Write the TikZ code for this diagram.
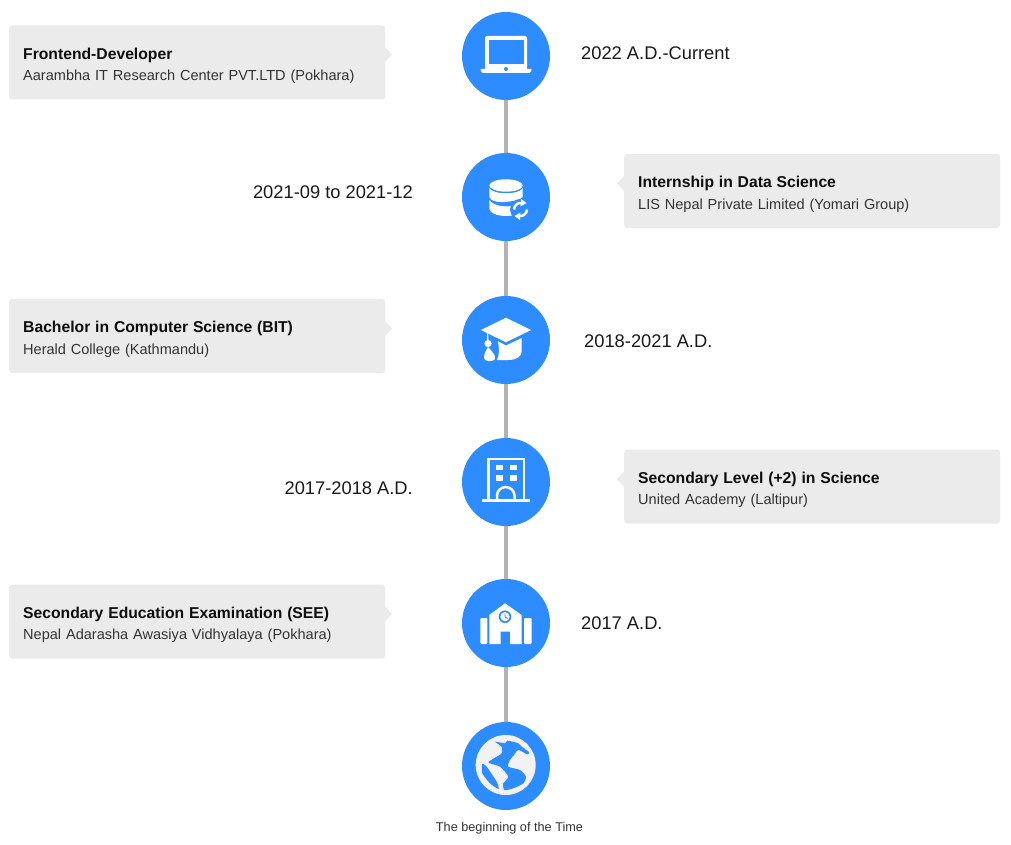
\documentclass[tikz,border=0pt]{standalone}
\usepackage{fontspec}
\setmainfont{Liberation Sans}
\definecolor{dotblue}{HTML}{2D8CFF}
\definecolor{cardgray}{HTML}{EBEBEB}
\definecolor{linegray}{HTML}{B3B3B3}
\definecolor{globegray}{HTML}{F2F2F2}
\tikzset{
  dot/.style={circle,fill=dotblue,minimum size=88pt,inner sep=0pt},
  tl/.style={line width=3.5pt,linegray},
  card/.style={fill=cardgray,rounded corners=3pt,minimum height=74pt,text width=348pt,minimum width=376pt,align=left,inner sep=0pt,anchor=west,font=\fontsize{14.55}{21.5}\selectfont,text=black!80},
  tip/.style={fill=cardgray,draw=none},
  datelabel/.style={font=\fontsize{18.3}{20}\selectfont,inner sep=0pt,text=black!90},
  ic/.style={fill=white,draw=none},
  ics/.style={draw=white,line width=2.5pt},
}
\newcommand{\cardtext}[2]{{\fontsize{15.7}{21.5}\selectfont\bfseries\color{black!95}#1}\\#2\par\vspace{-7pt}}

\begin{document}
\begin{tikzpicture}[x=1pt,y=-1pt]
  \useasboundingbox (0,0) rectangle (1011,845);
  %% the dots
  \node[dot] (d1) at (506,56) {};
  \node[dot] (d2) at (506,197) {};
  \node[dot] (d3) at (506,340) {};
  \node[dot] (d4) at (506,482) {};
  \node[dot] (d5) at (506,623) {};
  \node[dot] (d6) at (506,766) {};
  \draw[tl] (d1) -- (d2);
  \draw[tl] (d2) -- (d3);
  \draw[tl] (d3) -- (d4);
  \draw[tl] (d4) -- (d5);
  \draw[tl] (d5) -- (d6);
  %% the cards
  \node[card] (c1) at (9,62.5) {\cardtext{Frontend-Developer}{Aarambha IT Research Center PVT.LTD (Pokhara)}};
  \node[card] (c2) at (624,191) {\cardtext{Internship in Data Science}{LIS Nepal Private Limited (Yomari Group)}};
  \node[card] (c3) at (9,336) {\cardtext{Bachelor in Computer Science (BIT)}{Herald College (Kathmandu)}};
  \node[card] (c4) at (624,486.5) {\cardtext{Secondary Level (+2) in Science}{United Academy (Laltipur)}};
  \node[card] (c5) at (9,621.5) {\cardtext{Secondary Education Examination (SEE)}{Nepal Adarasha Awasiya Vidhyalaya (Pokhara)}};
  \fill[tip] (385,47) -- (392,54.5) -- (385,62) -- cycle;
  \fill[tip] (624,176) -- (617,183.5) -- (624,191) -- cycle;
  \fill[tip] (385,321) -- (392,328.5) -- (385,336) -- cycle;
  \fill[tip] (624,471.5) -- (617,479) -- (624,486.5) -- cycle;
  \fill[tip] (385,606.5) -- (392,614) -- (385,621.5) -- cycle;
  %% the dates
  \node[datelabel,anchor=west] (t1) at (581,53) {2022 A.D.-Current};
  \node[datelabel,anchor=east] (t2) at (413,192) {2021-09 to 2021-12};
  \node[datelabel,anchor=west] (t3) at (584,341) {2018-2021 A.D.};
  \node[datelabel,anchor=east] (t4) at (413,488) {2017-2018 A.D.};
  \node[datelabel,anchor=west] (t5) at (581,623) {2017 A.D.};
  \node[font=\fontsize{12.7}{14}\selectfont,inner sep=0pt,text=black!80] (t6) at (509.5,828) {The beginning of the Time};
  %% laptop
  \fill[ic,rounded corners=2pt] (485,36) rectangle (527,71);
  \fill[dotblue] (488.5,40) rectangle (523.5,64);
  \fill[ic,rounded corners=1pt] (480,69) -- (532,69) -- (530,73) -- (482,73) -- cycle;
  \fill[dotblue] (506,69) circle (2);
  %% database
  \fill[ic] (506,185.5) ellipse (16.7 and 6.2);
  \fill[ic] (489.3,188) .. controls (492,195) and (520,195) .. (522.7,188) -- (522.7,197) .. controls (520,201) and (492,206) .. (489.3,197) -- cycle;
  \fill[ic] (489.3,200) .. controls (494,206) and (503,207) .. (512,206) -- (512,215.5) .. controls (503,217) and (491,215) .. (489.3,209) -- cycle;
  \fill[dotblue] (520.5,209.5) circle (10.5);
  \draw[white,line width=2.5pt] (514,209.5) arc (180:290:6.5);
  \draw[white,line width=2.5pt] (527,209.5) arc (0:110:6.5);
  \fill[ic] (521,199) -- (526.5,203) -- (520.5,206.5) -- cycle;
  \fill[ic] (520,220) -- (514.5,216) -- (520.5,212.5) -- cycle;
  %% grad cap
  \fill[ic] (506,317.7) -- (531,330) -- (506,342.3) -- (481,330) -- cycle;
  \fill[ic] (497.7,341) -- (506,345.5) -- (521.7,338) -- (521.7,351) .. controls (521.7,357) and (516,360) .. (508,360) -- (497,360) .. controls (500,354) and (499,346) .. (497.7,341) -- cycle;
  \draw[white,line width=1.2pt] (487.5,332) -- (488,345);
  \fill[ic] (488,343.5) circle (3.6);
  \fill[ic] (488,347) .. controls (491,350) and (496,355) .. (495,359) .. controls (494,362) and (484,362) .. (484,358) .. controls (484,354) and (486,350) .. (488,347) -- cycle;
  %% office building
  \draw[ics] (488.5,500) -- (488.5,459) -- (523.8,459) -- (523.8,500);
  \draw[ics] (482.3,500.5) -- (530.3,500.5);
  \foreach \wx in {496,509.5}
    \foreach \wy in {464.5,475}
      \fill[ic] (\wx,\wy) rectangle ++(7,5.5);
  \draw[ics] (497,500) -- (497,495.7) arc (180:360:8.75 and 8.7) -- (514.5,500);
  %% school
  \fill[ic] (489.3,644) -- (489.3,615) -- (505,603.3) -- (521.7,615) -- (521.7,644) -- (510,644) -- (510,631.7) -- (500.7,631.7) -- (500.7,644) -- cycle;
  \fill[dotblue] (505,616.7) circle (6.3);
  \fill[ic] (505,616.7) circle (4.6);
  \draw[dotblue,line width=.8pt] (505,613.7) -- (505,617) -- (508,618.5);
  \fill[ic,rounded corners=1pt] (480.3,644) -- (480.3,618) -- (487.3,618) -- (487.3,644) -- cycle;
  \fill[ic,rounded corners=1pt] (524,644) -- (524,618) -- (531.7,618) -- (531.7,644) -- cycle;
  %% globe
  \fill[globegray] (505.7,765) circle (30);
  \begin{scope}[shift={(370,570)},x=.3333pt,y=-.3333pt]
    \fill[dotblue] plot[smooth cycle,tension=.4] coordinates {(375,515) (405,520) (412,512) (445,520) (455,530) (477,546) (472,553) (445,540) (432,555) (420,570) (415,590) (450,600) (468,620) (460,640) (430,655) (403,660) (400,640) (415,620) (390,590) (355,578) (372,565) (395,550) (395,530)};
    \fill[dotblue] plot[smooth cycle,tension=.4] coordinates {(337,582) (350,590) (365,612) (380,635) (386,657) (360,640) (337,610)};
  \end{scope}
\end{tikzpicture}
\end{document}
